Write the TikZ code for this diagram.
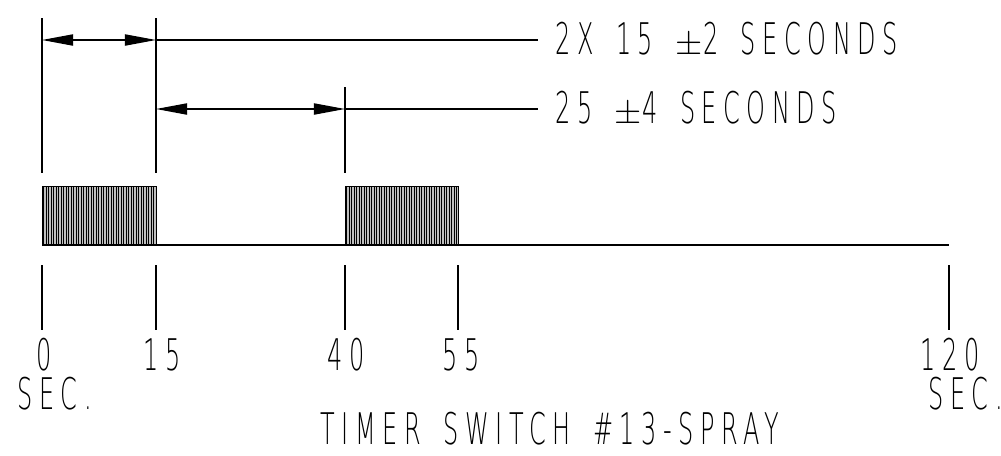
\documentclass[tikz,border=0pt]{standalone}
\usepackage{fontspec}
\newfontfamily\cadfont[FakeStretch=0.55,LetterSpace=15,WordSpace=1.6]{DejaVu Sans ExtraLight}
\usetikzlibrary{arrows.meta}

\tikzset{
  dimline/.style={line width=0.9pt},
  dimarrow/.style={line width=0.9pt,
    {Triangle[length=0.775cm,width=0.28cm]}-{Triangle[length=0.775cm,width=0.28cm]}},
  cadtext/.style={inner sep=0pt,text height=22pt,text depth=0pt,
    font=\cadfont\fontsize{31}{36}\selectfont},
  spray/.style={fill=gray!50,draw=black,line width=0.6pt}
}

\begin{document}
\begin{tikzpicture}[x=0.025cm,y=-0.025cm]
      \useasboundingbox (0,0) rectangle (1001,455);

      % time marks on the base line
      \coordinate (t0) at (42,245);
      \coordinate (t15) at (156,245);
      \coordinate (t40) at (345,245);
      \coordinate (t55) at (458,245);
      \coordinate (t120) at (949,245);

      % extension lines
      \draw[dimline] (42,18) coordinate (e0) -- (42,173);
      \draw[dimline] (156,18) coordinate (e15) -- (156,173);
      \draw[dimline] (345,87) coordinate (e40) -- (345,173);

      % spray periods
      \draw[spray] (42,186) rectangle (156,245);
      \draw[spray] (345,186) rectangle (458,245);
      \foreach \x in {43.5,46,...,155} {
        \draw[line width=0.4pt] (\x,186) -- (\x,245);
        \draw[line width=0.4pt] (\x+303,186) -- (\x+303,245);
      }
      \draw[dimline] (t0) -- (t120);

      % dimensions
      \node[cadtext,anchor=base west] (twox) at (555,54) {2X 15 $\pm$2 SECONDS};
      \node[cadtext,anchor=base west] (twentyfive) at (555,123) {25 $\pm$4 SECONDS};
      \coordinate (d1a) at (42,40);
      \coordinate (d1b) at (156,40);
      \coordinate (d2a) at (156,109);
      \coordinate (d2b) at (345,109);
      \draw[dimarrow] (d1a) -- (d1b);
      \draw[dimline] (d1b) -- (538,40) coordinate (l1);
      \draw[dimarrow] (d2a) -- (d2b);
      \draw[dimline] (d2b) -- (538,109) coordinate (l2);

      % ticks and labels below
      \foreach \t in {0,15,40,55,120}
        \draw[dimline] ([yshift=-20*0.025cm]t\t) -- ([yshift=-85*0.025cm]t\t);
      \node[cadtext,anchor=base] (n0) at (44,370) {0};
      \node[cadtext,anchor=base] (n15) at (162,370) {15};
      \node[cadtext,anchor=base] (n40) at (346,370) {40};
      \node[cadtext,anchor=base] (n55) at (461,370) {55};
      \node[cadtext,anchor=base] (n120) at (950,370) {120};
      \node[cadtext,anchor=base west] (sec0) at (17,409) {SEC.};
      \node[cadtext,anchor=base east] (sec120) at (1003,409) {SEC.};
      \node[cadtext,anchor=base] (title) at (550,444) {TIMER SWITCH \#13-SPRAY};
\end{tikzpicture}
\end{document}
